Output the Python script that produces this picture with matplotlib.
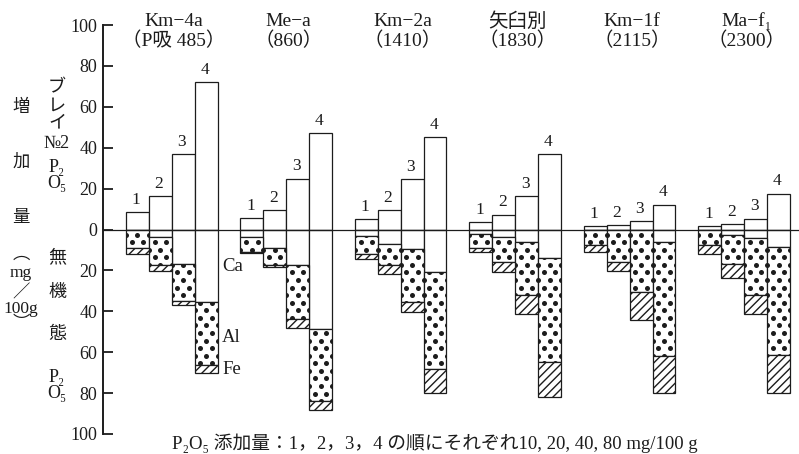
"""
Bray No.2 P2O5 and inorganic P fractions (Ca, Al, Fe) after P2O5 addition,
six soils, four addition levels each.
"""

import matplotlib.pyplot as plt
import numpy as np

plt.rcParams['font.family'] = ['Liberation Serif', 'DejaVu Serif', 'Noto Sans CJK JP']
plt.rcParams['hatch.linewidth'] = 1.0

INK = '#1c1c1c'

# soils and their P absorption coefficients
groups = ["Km−4a", "Me−a", "Km−2a", "矢臼別", "Km−1f", "Ma−f₁"]
p_absorb = ["（P吸 485）", "（860）", "（1410）", "（1830）", "（2115）", "（2300）"]
levels = ["1", "2", "3", "4"]

# increase of Bray No.2 P2O5 (mg/100g), levels 1-4 per soil
bray_p = [
    [8.4, 16.2, 37.0, 72.0],
    [5.5, 9.4, 24.9, 47.2],
    [4.9, 9.4, 24.7, 45.0],
    [3.6, 7.3, 16.3, 37.0],
    [1.7, 2.0, 4.0, 12.2],
    [1.7, 2.6, 5.3, 17.6],
]
# increase of inorganic P2O5 fractions (mg/100g)
ca_p = [
    [0.0, 3.5, 17.0, 35.5],
    [3.5, 9.2, 17.4, 48.8],
    [3.0, 7.0, 9.3, 21.0],
    [2.0, 3.7, 6.0, 14.0],
    [0.0, 0.0, 0.0, 6.0],
    [0.0, 2.6, 4.2, 8.8],
]
al_p = [
    [8.9, 13.9, 18.0, 31.0],
    [7.3, 8.2, 26.5, 35.3],
    [9.0, 10.4, 26.2, 47.0],
    [7.0, 12.2, 26.0, 51.0],
    [7.6, 15.8, 30.4, 56.0],
    [7.6, 14.3, 27.8, 52.5],
]
fe_p = [
    [3.2, 2.9, 1.8, 3.7],
    [0.8, 0.8, 4.4, 4.0],
    [2.4, 4.2, 4.8, 12.0],
    [2.0, 4.9, 9.3, 16.8],
    [3.6, 4.3, 13.8, 18.0],
    [4.4, 7.0, 9.5, 18.7],
]

fig = plt.figure(figsize=(7.99, 4.54), dpi=100)
ax = fig.add_axes([103 / 799, 20 / 454, 696 / 799, 409 / 454])

bar_kw = dict(width=1, align='edge', color='white', edgecolor=INK, linewidth=0.9)

# staggered dot texture used to fill the Al parts (like the printed screen)
row_y = np.arange(-100, 0.01, 3.7)
tex_x, tex_y = [], []
for i, yy in enumerate(row_y):
    cols = np.arange(0, 31, 0.5) + (0.25 if i % 2 else 0.0)
    tex_x.extend(cols)
    tex_y.extend([yy] * len(cols))
tex_x = np.array(tex_x)
tex_y = np.array(tex_y) + 1.3


def dot_fill(patch):
    """Cover one bar segment with the dot texture, clipped to it."""
    x0, y0 = patch.get_x(), patch.get_y()
    x1, y1 = x0 + patch.get_width(), y0 + patch.get_height()
    lo, hi = min(y0, y1), max(y0, y1)
    m = (tex_x > x0 - 0.3) & (tex_x < x1 + 0.3) & (tex_y > lo - 2) & (tex_y < hi + 2)
    sc = ax.scatter(tex_x[m], tex_y[m], s=13, color=INK, linewidths=0,
                    zorder=patch.get_zorder() + 0.1)
    sc.set_clip_path(patch)


for g in range(len(groups)):
    x = 1 + 5 * g + np.arange(len(levels))
    top = np.array(bray_p[g])
    ca = np.array(ca_p[g])
    al = np.array(al_p[g])
    fe = np.array(fe_p[g])

    ax.bar(x, top, **bar_kw)
    ax.bar(x, -ca, **bar_kw)
    dots = ax.bar(x, -al, bottom=-ca, **bar_kw)
    ax.bar(x, -fe, bottom=-(ca + al), hatch='////', **bar_kw)
    for p in dots:
        dot_fill(p)

    for xi, h, lab in zip(x, top, levels):
        ax.annotate(lab, (xi + 0.5, h), xytext=(-1, 3), textcoords='offset points',
                    ha='center', va='bottom', fontsize=12.5, color=INK)

    xc = 3.1 + 5 * g
    ax.text(xc, 101.7, groups[g], ha='center', va='center', fontsize=14, color=INK)
    ax.text(xc, 92.4, p_absorb[g], ha='center', va='center', fontsize=14, color=INK)

# fraction names beside the Km-4a level 4 bar
ax.text(5.2, -18.3, "Ca", ha='left', va='center', fontsize=13.5, color=INK)
ax.text(5.2, -52.6, "Al", ha='left', va='center', fontsize=13.5, color=INK)
ax.text(5.2, -68.7, "Fe", ha='left', va='center', fontsize=13.5, color=INK)

ax.axhline(0, color=INK, linewidth=0.9)

ax.set_xlim(0, 696 / 22.9)
ax.set_ylim(-100, 100)
for side in ['top', 'right', 'bottom']:
    ax.spines[side].set_visible(False)
ax.spines['left'].set_linewidth(1.4)
ax.spines['left'].set_color(INK)
ax.set_xticks([])
yt = np.arange(-100, 101, 20)
ax.set_yticks(yt)
ax.set_yticklabels([str(abs(v)) for v in yt])
ax.tick_params(axis='y', direction='in', length=7, width=1.3, pad=4,
               labelsize=13, colors=INK)


def ftext(px, py, s, size=12.5):
    """Place text at reference pixel coordinates."""
    fig.text(px / 799, 1 - py / 454, s, ha='center', va='center',
             color=INK, fontsize=size)


# outer label: 増加量（mg/100g）
for s, py in [("増", 108), ("加", 163), ("量", 218), ("︵", 255), ("mg", 273),
              ("／", 293), ("100g", 309), ("︶", 324)]:
    ftext(21, py, s)

# inner labels: ブレイ No.2 P2O5 / 無機態 P2O5
for s, py in [("ブ", 88), ("レ", 106), ("イ", 123), ("№2", 144), ("P₂", 168),
              ("O₅", 184), ("無", 258), ("機", 293), ("態", 335), ("P₂", 377),
              ("O₅", 394)]:
    ftext(57, py, s, size=13)

ftext(435, 443, "P₂O₅ 添加量：1，2，3，4 の順にそれぞれ10, 20, 40, 80 mg/100 g",
      size=13.5)

fig.savefig('out.png', dpi=100, facecolor='white')
